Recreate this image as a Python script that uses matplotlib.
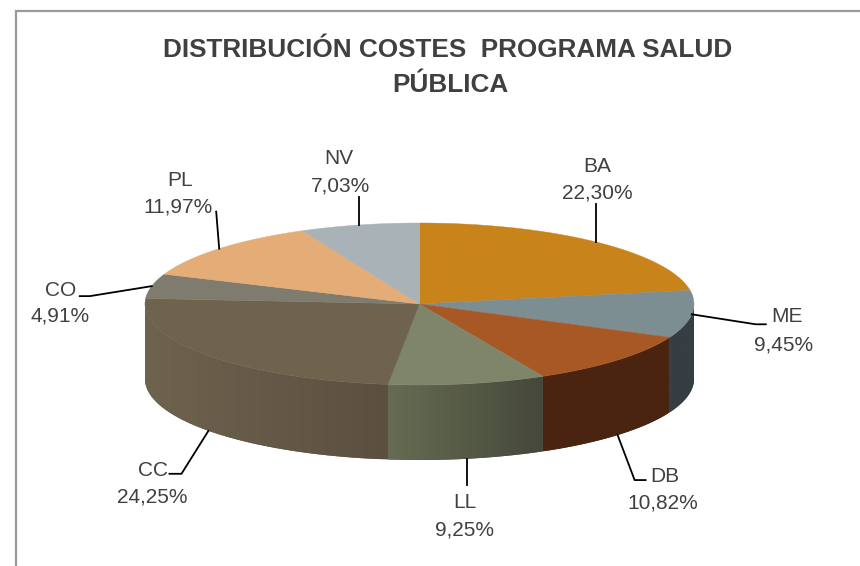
import numpy as np
import matplotlib
matplotlib.use('Agg')
import matplotlib.pyplot as plt
from matplotlib.colors import to_rgb

# datos
regiones = ['BA', 'ME', 'DB', 'LL', 'CC', 'CO', 'PL', 'NV']
porcentajes = [22.30, 9.45, 10.82, 9.25, 24.25, 4.91, 11.97, 7.03]
etiquetas_valor = ['22,30%', '9,45%', '10,82%', '9,25%', '24,25%', '4,91%', '11,97%', '7,03%']

# colores: cara superior y degradado lateral (izquierda, derecha)
col_top = ['#c8831a', '#7c8e92', '#a85825', '#7f8568', '#6e634d', '#7f7b6e', '#e4ac76', '#a9b2b7']
col_izq = ['#c8831a', '#353f42', '#4a2410', '#45483a', '#5b5040', '#7f7b6e', '#e4ac76', '#a9b2b7']
col_der = ['#c8831a', '#353f42', '#4a2410', '#666c53', '#6e634d', '#7f7b6e', '#e4ac76', '#a9b2b7']

# geometria en pixeles
cx, cy, rx, ry, prof = 419.5, 304, 274.5, 81, 75
txt = '#404040'

# linea guia: offsets desde el borde, posicion de textos
guia = {
    'BA': [(0, -38)],
    'ME': [(64, 10), (74, 10)],
    'DB': [(17, 45), (28, 45)],
    'LL': [(0, 26)],
    'CC': [(-27, 43), (-39, 43)],
    'CO': [(-62, 10), (-72, 10)],
    'PL': [(-3, -37)],
    'NV': [(0, -28)],
}
pos_nombre = {'BA': (597, 166), 'ME': (787, 317), 'DB': (665, 476), 'LL': (465, 503),
              'CC': (153, 471), 'CO': (61, 290), 'PL': (180, 181), 'NV': (339, 158)}
pos_valor = {'BA': (597, 193), 'ME': (784, 345), 'DB': (663, 503), 'LL': (464, 530),
             'CC': (152, 497), 'CO': (60, 316), 'PL': (178, 207), 'NV': (340, 186)}


def borde(th):
    # th en grados, en sentido horario desde arriba
    t = np.radians(th)
    return cx + rx * np.sin(t), cy - ry * np.cos(t)


fig = plt.figure(figsize=(8.6, 5.66), dpi=100)
ax = fig.add_axes([0, 0, 1, 1])
ax.axis('off')

# marco del grafico, solo arriba e izquierda
ax.plot([15.5, 15.5, 860], [566, 10.5, 10.5], color='#9a9a9a', lw=1.6, solid_joinstyle='miter')

acum = np.concatenate([[0], np.cumsum(porcentajes)]) * 360 / sum(porcentajes)

# cara lateral con degradado horizontal
for i in range(len(regiones)):
    a, b = max(acum[i], 90), min(acum[i + 1], 270)
    if b <= a:
        continue
    xs, ys = borde(np.linspace(a, b, 120))
    poly_x = np.r_[xs, xs[::-1]]
    poly_y = np.r_[ys, ys[::-1] + prof]
    media = (np.array(to_rgb(col_izq[i])) + np.array(to_rgb(col_der[i]))) / 2
    ax.fill(poly_x, poly_y, color=media, lw=0, zorder=2)
    f = np.linspace(0, 1, 128)[:, None]
    grad = ((1 - f) * np.array(to_rgb(col_izq[i])) + f * np.array(to_rgb(col_der[i])))[None, :, :]
    # el degradado va de claro a oscuro hacia la derecha en LL y CC
    if col_izq[i] != col_der[i]:
        grad = grad[:, ::-1, :]
    parche = plt.Polygon(np.c_[poly_x, poly_y], transform=ax.transData, fc='none', ec='none')
    ax.add_patch(parche)
    im = ax.imshow(grad, extent=[poly_x.min(), poly_x.max(), poly_y.max(), poly_y.min()],
                   aspect='auto', zorder=2.5, interpolation='bilinear')
    im.set_clip_path(parche)

ax.set_xlim(0, 860)
ax.set_ylim(566, 0)

# cara superior
for i in range(len(regiones)):
    th = np.linspace(acum[i], acum[i + 1], 80)
    xs, ys = borde(th)
    ax.fill(np.r_[cx, xs], np.r_[cy, ys], color=col_top[i], lw=0.3, zorder=3)

# etiquetas y lineas guia
for i, r in enumerate(regiones):
    medio = (acum[i] + acum[i + 1]) / 2
    x0, y0 = borde(medio)
    # ME sale del borde superior, las demas de abajo desde la cara lateral
    if 100 < medio < 260:
        y0 += prof
    px = [x0] + [x0 + d[0] for d in guia[r]]
    py = [y0] + [y0 + d[1] for d in guia[r]]
    ax.plot(px, py, color='black', lw=1.3, zorder=4)
    ax.text(*pos_nombre[r], r, ha='center', va='center', fontsize=15,
            family='Liberation Sans', color=txt)
    ax.text(*pos_valor[r], etiquetas_valor[i], ha='center', va='center', fontsize=15,
            family='Liberation Sans', color=txt)

# titulo
ax.text(448, 50, 'DISTRIBUCIÓN COSTES  PROGRAMA SALUD', ha='center', va='center',
        fontsize=18.8, fontweight='bold', family='Liberation Sans', color=txt)
ax.text(450, 85, 'PÚBLICA', ha='center', va='center',
        fontsize=18.8, fontweight='bold', family='Liberation Sans', color=txt)

fig.savefig('out.png', dpi=100, facecolor='white')
